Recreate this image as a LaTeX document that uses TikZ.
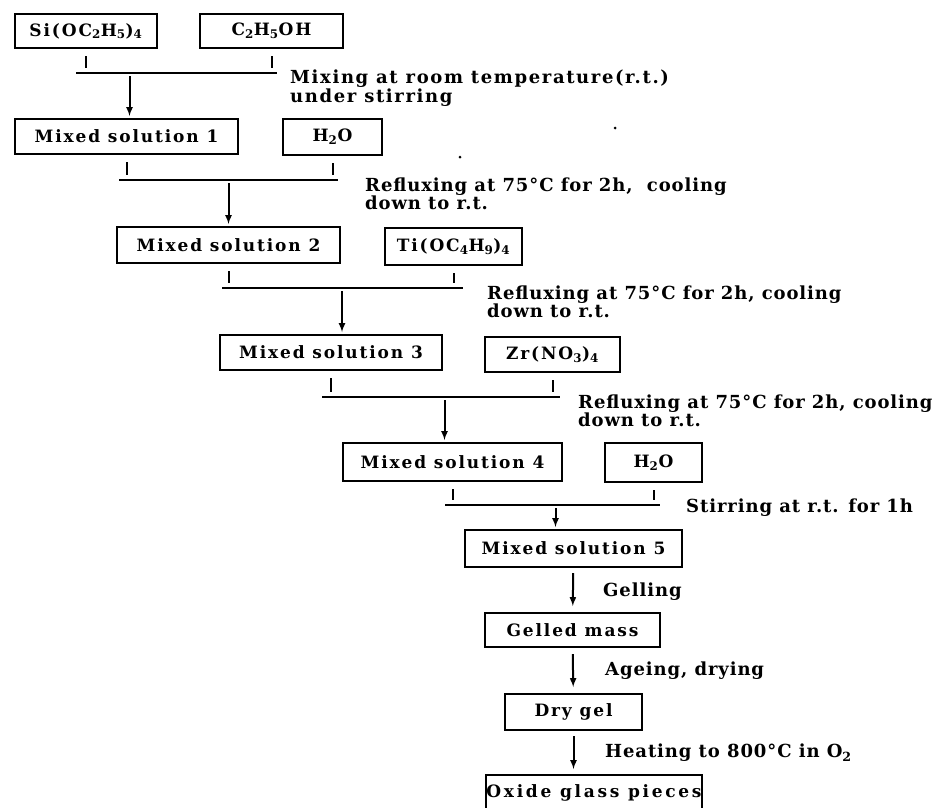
\documentclass[tikz,border=0pt]{standalone}
\usepackage{fontspec}
\setmainfont{DejaVu Serif}
\usetikzlibrary{arrows}
\usetikzlibrary{shapes}

\newcommand{\chemsub}[1]{\textsubscript{#1}}

\begin{document}
\begin{tikzpicture}[x = 1pt, y = -1pt]
	\tikzstyle{boxStyle} = [draw, line width = 2pt, inner sep = 0pt, font = \fontsize{17}{18}\selectfont\bfseries\addfontfeature{LetterSpace=11}]
	\tikzstyle{noteStyle} = [anchor = west, align = left, inner sep = 0pt, font = \fontsize{18}{18}\selectfont\bfseries\addfontfeature{LetterSpace=5}]
	\tikzstyle{lineStyle} = [line width = 2pt]
	\tikzstyle{tickStyle} = [line width = 2pt, shorten < = 7pt, shorten > = 5pt]
	\tikzstyle{arrowStyle} = [-latex, line width = 2pt, shorten < = 3pt, shorten > = 2pt]
	\useasboundingbox (0,0) rectangle (944,807);
	\clip (0,0) rectangle (944,807);
	% boxes
	\node[boxStyle, minimum width = 142pt, minimum height = 34pt] (si) at (86,31) {Si(OC\chemsub{2}H\chemsub{5})\chemsub{4}};
	\node[boxStyle, minimum width = 143pt, minimum height = 34pt] (eth) at (271.5,31) {C\chemsub{2}H\chemsub{5}OH};
	\node[boxStyle, minimum width = 223pt, minimum height = 35pt] (ms1) at (126.5,136.5) {Mixed solution 1};
	\node[boxStyle, minimum width = 99pt, minimum height = 36pt] (wat1) at (332.5,137) {H\chemsub{2}O};
	\node[boxStyle, minimum width = 223pt, minimum height = 36pt] (ms2) at (228.5,245) {Mixed solution 2};
	\node[boxStyle, minimum width = 137pt, minimum height = 37pt] (ti) at (453.5,246.5) {Ti(OC\chemsub{4}H\chemsub{9})\chemsub{4}};
	\node[boxStyle, minimum width = 222pt, minimum height = 35pt] (ms3) at (331,352.5) {Mixed solution 3};
	\node[boxStyle, minimum width = 135pt, minimum height = 35pt] (zr) at (552.5,354.5) {Zr(NO\chemsub{3})\chemsub{4}};
	\node[boxStyle, minimum width = 219pt, minimum height = 38pt] (ms4) at (452.5,462) {Mixed solution 4};
	\node[boxStyle, minimum width = 97pt, minimum height = 39pt] (wat2) at (653.5,462.5) {H\chemsub{2}O};
	\node[boxStyle, minimum width = 217pt, minimum height = 37pt] (ms5) at (573.5,548.5) {Mixed solution 5};
	\node[boxStyle, minimum width = 175pt, minimum height = 34pt] (gel) at (572.5,630) {Gelled mass};
	\node[boxStyle, minimum width = 137pt, minimum height = 36pt] (dry) at (573.5,712) {Dry gel};
	\node[boxStyle, minimum width = 216pt, minimum height = 36pt, font = \fontsize{17}{18}\selectfont\bfseries\addfontfeature{LetterSpace=16}] (oxide) at (594,793) {Oxide glass pieces};
	% join lines
	\coordinate (j1l) at (76,73);   \coordinate (j1r) at (277,73);
	\coordinate (j2l) at (119,180); \coordinate (j2r) at (338,180);
	\coordinate (j3l) at (222,288); \coordinate (j3r) at (463,288);
	\coordinate (j4l) at (322,397); \coordinate (j4r) at (560,397);
	\coordinate (j5l) at (445,505); \coordinate (j5r) at (660,505);
	\draw[lineStyle] (j1l) -- (j1r);
	\draw[lineStyle] (j2l) -- (j2r);
	\draw[lineStyle] (j3l) -- (j3r);
	\draw[lineStyle] (j4l) -- (j4r);
	\draw[lineStyle] (j5l) -- (j5r);
	\draw[tickStyle] (si.south) -- (si.south |- j1l);
	\draw[tickStyle] (eth.south) -- (eth.south |- j1l);
	\draw[tickStyle] (ms1.south) -- (ms1.south |- j2l);
	\draw[tickStyle] (wat1.south) -- (wat1.south |- j2l);
	\draw[tickStyle] (ms2.south) -- (ms2.south |- j3l);
	\draw[tickStyle] (ti.south) -- (ti.south |- j3l);
	\draw[tickStyle] (ms3.south) -- (ms3.south |- j4l);
	\draw[tickStyle] (zr.south) -- (zr.south |- j4l);
	\draw[tickStyle] (ms4.south) -- (ms4.south |- j5l);
	\draw[tickStyle] (wat2.south) -- (wat2.south |- j5l);
	% arrows
	\draw[arrowStyle] ([xshift = 3pt]ms1.north |- j1l) -- ([xshift = 3pt]ms1.north);
	\draw[arrowStyle] (ms2.north |- j2l) -- (ms2.north);
	\draw[arrowStyle] ([xshift = 11pt]ms3.north |- j3l) -- ([xshift = 11pt]ms3.north);
	\draw[arrowStyle] ([xshift = -8pt]ms4.north |- j4l) -- ([xshift = -8pt]ms4.north);
	\draw[arrowStyle] ([xshift = -18pt]ms5.north |- j5l) -- ([xshift = -18pt]ms5.north);
	\draw[arrowStyle, shorten < = 5pt, shorten > = 6pt] (ms5) -- (gel);
	\draw[arrowStyle, shorten < = 6pt, shorten > = 6pt] (gel) -- (dry);
	\draw[arrowStyle, shorten < = 5pt, shorten > = 5pt] (dry) -- (dry |- oxide.north);
	% notes
	\node[noteStyle, font = \fontsize{18}{17}\selectfont\bfseries\addfontfeature{LetterSpace=9}] (mixNote) at (290,88) {Mixing at room temperature(r.t.)\\under stirring};
	\node[noteStyle] (reflux1) at (365,194) {Refluxing at 75°C for 2h,\ \ cooling\\down to r.t.};
	\node[noteStyle] (reflux2) at (487,302) {Refluxing at 75°C for 2h, cooling\\down to r.t.};
	\node[noteStyle] (reflux3) at (578,411) {Refluxing at 75°C for 2h, cooling\\down to r.t.};
	\node[noteStyle] (stirNote) at (686,508) {Stirring at r.t. for 1h};
	\node[noteStyle] (gelNote) at (603,592) {Gelling};
	\node[noteStyle] (ageNote) at (605,671) {Ageing, drying};
	\node[noteStyle] (heatNote) at (605,753) {Heating to 800°C in O\chemsub{2}};
	% specks
	\fill (615,128) circle (1.5);
	\fill (460,157) circle (1.5);
\end{tikzpicture}
\end{document}
